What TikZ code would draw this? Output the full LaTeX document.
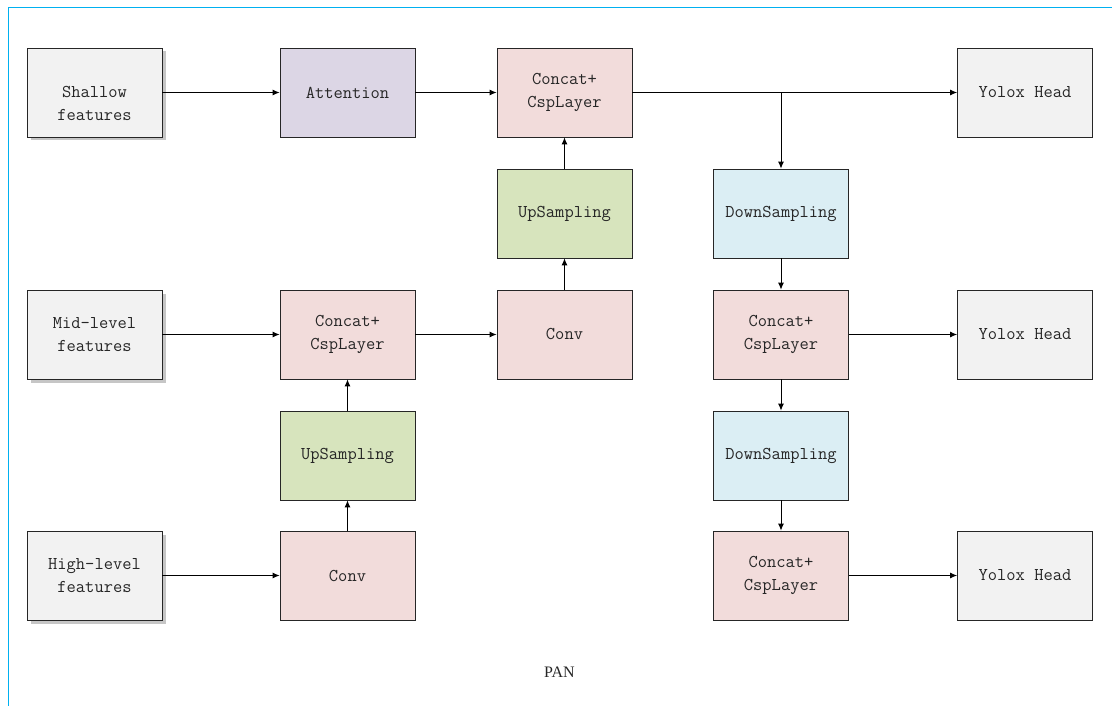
\documentclass[tikz,border=0pt]{standalone}
\usepackage{fontspec}
\setmainfont{Liberation Serif}
\setmonofont{Latin Modern Mono}
\usetikzlibrary{arrows.meta,shadows}
\definecolor{fgray}{HTML}{F2F2F2}
\definecolor{fpurple}{HTML}{DCD6E5}
\definecolor{fpink}{HTML}{F2DCDB}
\definecolor{fgreen}{HTML}{D7E4BD}
\definecolor{fblue}{HTML}{DBEEF4}
\definecolor{frame}{HTML}{00B0F0}
\definecolor{edge}{HTML}{262626}
\tikzset{
  x=1pt, y=-1pt,
  txt/.style={align=center, text=black!85, inner sep=0pt,
    font=\ttfamily\fontsize{18}{23}\selectfont},
  block/.style={txt, draw=edge, line width=0.8pt, minimum width=135pt, minimum height=89pt},
  feat/.style={block, fill=fgray, drop shadow={shadow xshift=3.5pt, shadow yshift=-3.5pt, opacity=0.45}},
  head/.style={block, fill=fgray},
  att/.style={block, fill=fpurple},
  csp/.style={block, fill=fpink},
  up/.style={block, fill=fgreen},
  down/.style={block, fill=fblue},
  link/.style={draw=black, line width=0.9pt, -{Latex[length=7pt,width=6pt]}}
}
\begin{document}
\begin{tikzpicture}
\useasboundingbox (0,0) rectangle (1112,706);
% outer frame edges
\draw[frame, line width=1pt] (8,706) -- (8,8) -- (1112,8);

% column x centres: 94.5, 347.5, 564.5, 781, 1025
\node[feat] (shallow) at (94.5,92.5) {};
\node[txt] (shallowtxt) at ([yshift=-11pt]shallow.center) {Shallow\\features};
\node[att]  (att)     at (347.5,92.5) {Attention};
\node[csp]  (cspT)    at (564.5,92.5) {Concat+\\CspLayer};
\node[head] (head1)   at (1025,92.5) {Yolox Head};

\node[up]   (upT)     at (564.5,213.5) {UpSampling};
\node[down] (downA)   at (781,213.5) {DownSampling};

\node[feat] (mid)     at (94.5,334.5) {Mid-level\\features};
\node[csp]  (cspL)    at (347.5,334.5) {Concat+\\CspLayer};
\node[csp]  (convM)   at (564.5,334.5) {Conv};
\node[csp]  (cspR)    at (781,334.5) {Concat+\\CspLayer};
\node[head] (head2)   at (1025,334.5) {Yolox Head};

\node[up]   (upB)     at (347.5,455.5) {UpSampling};
\node[down] (downB)   at (781,455.5) {DownSampling};

\node[feat] (high)    at (94.5,575.5) {High-level\\features};
\node[csp]  (convB)   at (347.5,575.5) {Conv};
\node[csp]  (cspB)    at (781,575.5) {Concat+\\CspLayer};
\node[head] (head3)   at (1025,575.5) {Yolox Head};

\node[font=\fontsize{16}{19}\selectfont, text=black!85] (pan) at (559.5,672) {PAN};

% connectors
\draw[link] (shallow) -- (att);
\draw[link] (att) -- (cspT);
\draw[link] (cspT) -- (head1);
\coordinate (split) at (downA.north |- cspT.east);
\draw[link] (split) -- (downA);
\draw[link] (upT) -- (cspT);
\draw[link] (convM) -- (upT);
\draw[link] (mid) -- (cspL);
\draw[link] (cspL) -- (convM);
\draw[link] (downA) -- (cspR);
\draw[link] (cspR) -- (head2);
\draw[link] (upB) -- (cspL);
\draw[link] (convB) -- (upB);
\draw[link] (high) -- (convB);
\draw[link] (cspR) -- (downB);
\draw[link] (downB) -- (cspB);
\draw[link] (cspB) -- (head3);
\end{tikzpicture}
\end{document}
